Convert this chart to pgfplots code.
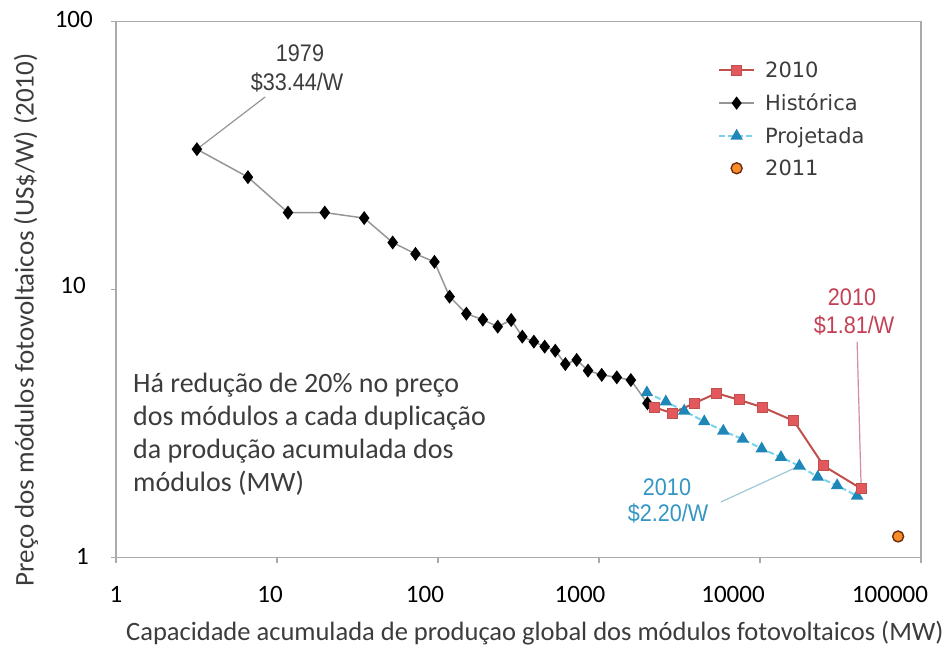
\documentclass[border=0pt]{standalone}
\usepackage{pgfplots}
\pgfplotsset{compat=1.18}
\usepackage{fontspec}
\setmainfont{Carlito}
\newfontfamily\legfont{DejaVu Sans}
\newfontfamily\annfont[FakeStretch=0.9]{Liberation Sans}
\definecolor{axisgray}{RGB}{170,170,170}
\definecolor{histline}{RGB}{150,150,150}
\definecolor{redline}{RGB}{192,80,77}
\definecolor{redfill}{RGB}{226,88,92}
\definecolor{triblue}{RGB}{31,134,184}
\definecolor{cyanline}{RGB}{120,210,235}
\definecolor{orangefill}{RGB}{247,140,40}
\definecolor{orangedraw}{RGB}{110,45,15}
\definecolor{txtgray}{RGB}{60,60,60}
\definecolor{redtxt}{RGB}{196,64,84}
\definecolor{bluetxt}{RGB}{52,150,196}
\definecolor{leadblue}{RGB}{160,200,215}
\definecolor{leadred}{RGB}{210,140,155}
\begin{document}
\begin{tikzpicture}
\useasboundingbox (0pt,0pt) rectangle (951pt,650pt);
\begin{axis}[
  at={(116pt,92.3pt)}, anchor=south west,
  scale only axis, width=805pt, height=536pt,
  xmode=log, ymode=log,
  xmin=1, xmax=100000, ymin=1, ymax=100,
  xtick={1,10,100,1000,10000,100000}, ytick={1,10,100},
  xticklabels={}, yticklabels={},
  xminorticks=false, yminorticks=false,
  xtick pos=bottom, ytick pos=left,
  tick align=outside, major tick length=5pt,
  axis line style={draw=axisgray, line width=1.5pt},
  every tick/.style={draw=axisgray, line width=1.2pt},
  clip=false,
  legend image code/.code={\draw[#1, mark repeat=2, mark phase=2] plot coordinates {(0pt,0pt) (17.5pt,0pt) (35pt,0pt)};},
  legend cell align=left,
  legend style={at={(axis description cs:0.748,0.925)}, anchor=north west,
    draw=none, fill=none, inner sep=0pt, outer sep=0pt,
    font=\legfont\fontsize{21}{24}\selectfont, text=txtgray,
    row sep=15pt, nodes={inner sep=0pt},
    /tikz/every odd column/.append style={column sep=10pt}},
]
% legend entries
\addlegendimage{redline, line width=2pt, mark=square*, mark size=5pt, mark options={fill=redfill, draw=redline, line width=1pt}}
\addlegendentry{2010}
\addlegendimage{histline, line width=1.5pt, mark=diamond*, mark size=5.5pt, mark options={fill=black, draw=black}}
\addlegendentry{Histórica}
\addlegendimage{cyanline, line width=2pt, dash pattern=on 6pt off 3pt, mark=triangle*, mark size=5.2pt, mark options={solid, fill=triblue, draw=triblue}}
\addlegendentry{Projetada}
\addlegendimage{only marks, mark=*, mark size=5.5pt, mark options={fill=orangefill, draw=orangedraw, line width=1.4pt}}
\addlegendentry{2011}

% leader lines
\draw[histline, line width=1.2pt] (axis cs:3.18,33.44) -- (axis cs:8.45,52.4);
\draw[leadblue, line width=1.2pt] (axis cs:17570,2.20) -- (axis cs:5720,1.614);
\draw[leadred, line width=1.2pt] (axis cs:42500,1.81) -- (axis cs:40100,6.4);

% Projetada
\addplot[forget plot, cyanline, line width=2pt, dash pattern=on 6pt off 3pt, mark=triangle*, mark size=5.2pt, mark options={solid, fill=triblue, draw=triblue}] coordinates {
(1983,4.13) (2602,3.82) (3381,3.53) (4506,3.22) (5914,2.97) (7806,2.77)
(10250,2.55) (13500,2.37) (17570,2.20) (22850,2.00) (30140,1.86) (40100,1.70)
};
% Historica
\addplot[forget plot, histline, line width=1.5pt, mark=diamond*, mark size=5.8pt, mark options={fill=black, draw=black}] coordinates {
(3.18,33.44) (6.6,26.3) (11.7,19.4) (19.8,19.4) (34.8,18.5) (52.3,15.0)
(72.5,13.6) (95.1,12.7) (118,9.42) (150,8.14) (190,7.73) (235,7.28)
(285,7.71) (334,6.68) (394,6.40) (460,6.13) (535,5.92) (618,5.28)
(727,5.47) (855,4.99) (1040,4.81) (1290,4.71) (1577,4.60) (2000,3.77)
};
% 2010
\addplot[forget plot, redline, line width=2pt, mark=square*, mark size=5pt, mark options={fill=redfill, draw=redline, line width=1pt}] coordinates {
(2200,3.64) (2864,3.46) (3902,3.77) (5380,4.11) (7430,3.88) (10400,3.64)
(16200,3.24) (24900,2.20) (42500,1.81)
};
% 2011
\addplot[forget plot, only marks, mark=*, mark size=5.5pt, mark options={fill=orangefill, draw=orangedraw, line width=1.4pt}] coordinates {(72100,1.2)};
\end{axis}

% tick labels
\begin{scope}[every node/.style={font=\fontsize{25}{28}\selectfont, text=black, inner sep=0pt}]
\node[anchor=base] at (116pt,47pt) {1};
\node[anchor=base] at (270pt,47pt) {10};
\node[anchor=base] at (425pt,47pt) {100};
\node[anchor=base] at (580pt,47pt) {1000};
\node[anchor=base] at (733pt,47pt) {10000};
\node[anchor=base] at (890pt,47pt) {100000};
\node[anchor=base east] at (93pt,622pt) {100};
\node[anchor=base east] at (86pt,356pt) {10};
\node[anchor=base east] at (89pt,85pt) {1};
\end{scope}

% axis titles
\node[font=\fontsize{26.5}{30}\selectfont, text=txtgray, inner sep=0pt, anchor=base] at (535pt,9pt) {Capacidade acumulada de produçao global dos módulos fotovoltaicos (MW)};
\node[font=\fontsize{27}{30}\selectfont, text=txtgray, inner sep=0pt, rotate=90] at (26pt,330pt) {Preço dos módulos fotovoltaicos (US\$/W) (2010)};

% note
\begin{scope}[every node/.style={font=\fontsize{28}{33}\selectfont, text=txtgray, inner sep=0pt, anchor=base west}]
\node at (133pt,257.5pt) {Há redução de 20\% no preço};
\node at (133pt,224.5pt) {dos módulos a cada duplicação};
\node at (133pt,191.5pt) {da produção acumulada dos};
\node at (133pt,158.5pt) {módulos (MW)};
\end{scope}

% annotations
\begin{scope}[every node/.style={font=\annfont\fontsize{24}{28}\selectfont, inner sep=0pt, anchor=base}]
\node[text=txtgray] at (300pt,588.4pt) {1979};
\node[text=txtgray] at (297pt,559.4pt) {\$33.44/W};
\node[text=redtxt] at (852pt,344.4pt) {2010};
\node[text=redtxt] at (854pt,316.4pt) {\$1.81/W};
\node[text=bluetxt] at (667pt,154.4pt) {2010};
\node[text=bluetxt] at (668pt,128.4pt) {\$2.20/W};
\end{scope}
\end{tikzpicture}
\end{document}
